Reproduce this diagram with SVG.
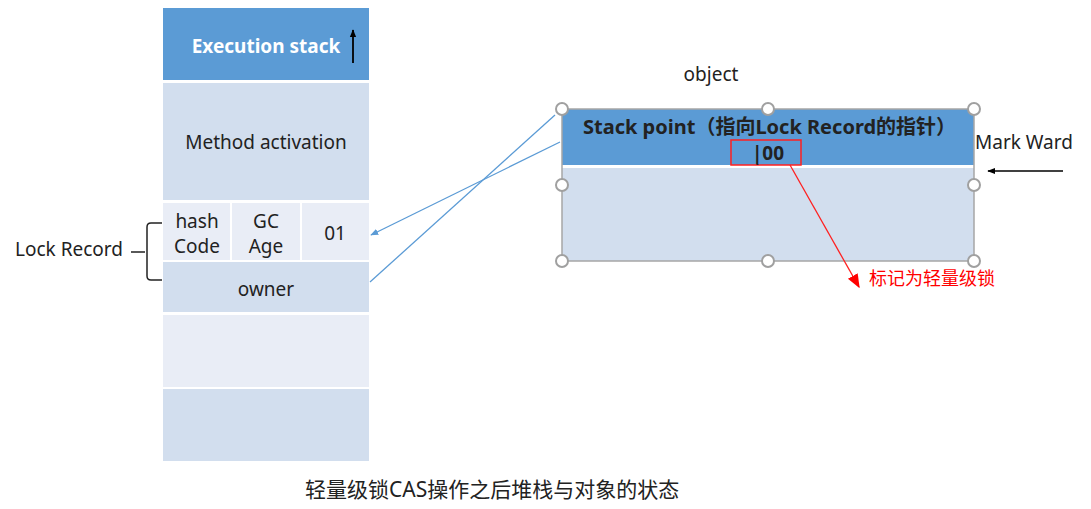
<svg xmlns="http://www.w3.org/2000/svg" width="1091" height="509" viewBox="0 0 1091 509">
<style>
text{font-family:"Noto Sans","Liberation Sans","Noto Sans CJK SC",sans-serif;fill:#222;}
.c{text-anchor:middle;}
.t{font-size:19px;}
.dark{fill:#d2deee;}
.light{fill:#e9edf6;}
.handle{fill:#fff;stroke:#a0a0a0;stroke-width:2;}
.blue{stroke:#5b9bd5;stroke-width:1.3;fill:none;}
</style>
<defs>
<marker id="ab" viewBox="0 0 10 10" refX="9" refY="5" markerWidth="8" markerHeight="8" orient="auto" markerUnits="userSpaceOnUse"><path d="M0,1 L10,5 L0,9 z" fill="#5b9bd5"/></marker>
<marker id="ar" viewBox="0 0 10 10" refX="9" refY="5" markerWidth="14" markerHeight="14" orient="auto" markerUnits="userSpaceOnUse"><path d="M0,1 L10,5 L0,9 z" fill="#ff0000"/></marker>
<marker id="ak" viewBox="0 0 10 10" refX="9" refY="5" markerWidth="8" markerHeight="8" orient="auto" markerUnits="userSpaceOnUse"><path d="M0,1 L10,5 L0,9 z" fill="#000"/></marker>
</defs>
<rect width="1091" height="509" fill="#fff"/>
<g id="exec-stack">
<rect x="163" y="8" width="206" height="72" fill="#5b9bd5"/>
<text x="266" y="53" class="c" style="font-size:19px;font-weight:bold;fill:#fff">Execution stack</text>
<line x1="353" y1="63" x2="353" y2="30" stroke="#000" stroke-width="1.8" marker-end="url(#ak)"/>
</g>
<g id="method-activation">
<rect x="163" y="83" width="206" height="117" class="dark"/>
<text x="266" y="149" class="c t">Method activation</text>
</g>
<g id="hash-code">
<rect x="163" y="203" width="67" height="57" class="light"/>
<text x="197" y="228" class="c t">hash</text>
<text x="197" y="253" class="c t">Code</text>
</g>
<g id="gc-age">
<rect x="232" y="203" width="68" height="57" class="light"/>
<text x="266" y="228" class="c t">GC</text>
<text x="266" y="253" class="c t">Age</text>
</g>
<g id="lock-bits">
<rect x="302" y="203" width="67" height="57" class="light"/>
<text x="335" y="240" class="c t">01</text>
</g>
<g id="owner">
<rect x="163" y="262" width="206" height="50" class="dark"/>
<text x="266" y="296" class="c t">owner</text>
</g>
<g id="empty-1"><rect x="163" y="315" width="206" height="72" class="light"/></g>
<g id="empty-2"><rect x="163" y="389" width="206" height="72" class="dark"/></g>
<g id="lock-record-label">
<text x="15" y="256" class="t">Lock Record</text>
<path d="M131,252 H145 M162,223 H151 Q147,223 147,227 V276 Q147,280 151,280 H162" fill="none" stroke="#222" stroke-width="1.5"/>
</g>
<g id="object">
<text x="711" y="81" class="c t">object</text>
<rect x="562" y="109" width="412" height="56" fill="#5b9bd5"/>
<rect x="562" y="168" width="412" height="93" class="dark"/>
<rect x="562" y="109" width="412" height="152" fill="none" stroke="#a6a6a6" stroke-width="1.5"/>
<text x="583" y="134" style="font-size:20px;font-weight:bold">Stack point（指向Lock Record的指针）</text>
<rect x="731" y="140" width="70" height="25" fill="none" stroke="#ff2020" stroke-width="1.5"/>
<text x="768" y="160" class="c" style="font-size:19px;font-weight:bold">|00</text>
<circle cx="562" cy="109" r="6" class="handle"/>
<circle cx="768" cy="109" r="6" class="handle"/>
<circle cx="974" cy="109" r="6" class="handle"/>
<circle cx="562" cy="185" r="6" class="handle"/>
<circle cx="974" cy="185" r="6" class="handle"/>
<circle cx="562" cy="261" r="6" class="handle"/>
<circle cx="768" cy="261" r="6" class="handle"/>
<circle cx="974" cy="261" r="6" class="handle"/>
</g>
<g id="mark-ward">
<text x="975" y="149" class="t">Mark Ward</text>
</g>
<g id="lightweight-label">
<text x="869" y="285" style="font-size:18px;fill:#ff0000">标记为轻量级锁</text>
</g>
<g id="connectors">
<line x1="555" y1="115" x2="370" y2="282" class="blue"/>
<line x1="560" y1="142" x2="371" y2="235" class="blue" marker-end="url(#ab)"/>
<line x1="790" y1="165" x2="859" y2="287" stroke="#ff2020" stroke-width="1.3" marker-end="url(#ar)"/>
<line x1="1063" y1="171" x2="988" y2="171" stroke="#000" stroke-width="1.3" marker-end="url(#ak)"/>
</g>
<text x="305" y="497" style="font-size:21px">轻量级锁CAS操作之后堆栈与对象的状态</text>
</svg>
